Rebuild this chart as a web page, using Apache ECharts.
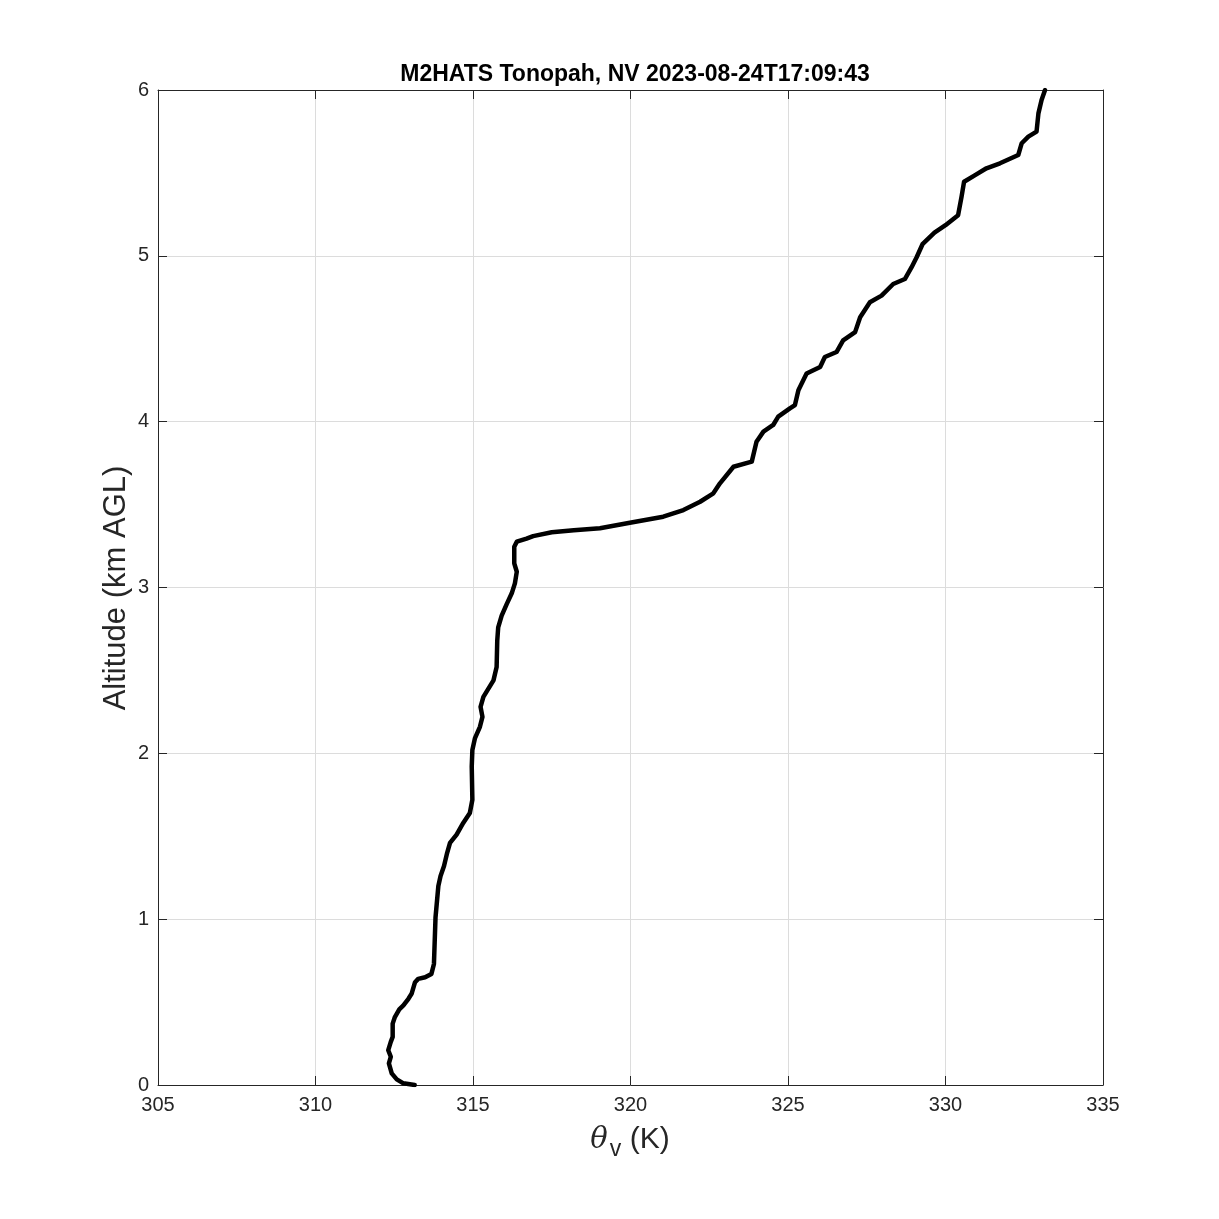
<!DOCTYPE html>
<html><head><meta charset="utf-8">
<script src="https://cdn.jsdelivr.net/npm/echarts@6/dist/echarts.min.js"></script>
<style>html,body{margin:0;padding:0;background:#fff}#c{width:1219px;height:1219px}</style>
</head><body><div id="c"></div>
<script>
const titleText = 'M2HATS Tonopah, NV 2023-08-24T17:09:43';
const xTicks = [305, 310, 315, 320, 325, 330, 335];
const yTicks = [0, 1, 2, 3, 4, 5, 6];
const thetaV = [313.15,312.79,312.58,312.42,312.33,312.39,312.31,312.39,312.45,312.45,312.52,312.66,312.79,312.95,313.05,313.16,313.26,313.48,313.68,313.76,313.81,313.90,313.97,314.08,314.18,314.27,314.48,314.69,314.90,314.98,314.96,314.98,315.06,315.22,315.30,315.24,315.33,315.49,315.65,315.75,315.77,315.80,315.91,316.07,316.23,316.33,316.39,316.31,316.31,316.39,316.70,316.91,317.50,318.20,319.03,319.98,321.04,321.68,322.21,322.63,322.84,323.27,323.85,324.00,324.22,324.53,324.69,325.06,325.22,325.33,325.59,326.02,326.17,326.54,326.75,327.13,327.29,327.60,327.97,328.34,328.71,328.92,329.08,329.27,329.65,330.00,330.40,330.51,330.59,330.94,331.30,331.73,332.31,332.42,332.63,332.89,332.95,333.05,333.16];
const altitude = [0.00,0.01,0.034,0.07,0.13,0.17,0.21,0.26,0.29,0.37,0.41,0.456,0.48,0.52,0.55,0.62,0.64,0.65,0.67,0.73,1.01,1.20,1.26,1.32,1.40,1.46,1.51,1.58,1.64,1.72,1.92,2.02,2.09,2.16,2.22,2.28,2.34,2.39,2.44,2.52,2.68,2.76,2.83,2.90,2.965,3.025,3.095,3.146,3.246,3.276,3.295,3.31,3.333,3.345,3.357,3.39,3.427,3.467,3.517,3.568,3.628,3.728,3.759,3.879,3.94,3.98,4.03,4.08,4.10,4.19,4.29,4.33,4.39,4.42,4.49,4.54,4.63,4.72,4.76,4.83,4.86,4.93,4.99,5.07,5.14,5.185,5.245,5.357,5.447,5.487,5.528,5.558,5.608,5.679,5.719,5.749,5.859,5.94,6.00];

const FONT = '"Liberation Sans", Arial, Helvetica, sans-serif';
const pts = thetaV.map((t, i) => [t, altitude[i]]);
const chart = echarts.init(document.getElementById('c'), null, {renderer: 'canvas'});
const axisBase = (min, max, interval) => ({
  type: 'value', min, max, interval,
  axisLine: {show: true, onZero: false, lineStyle: {color: '#262626', width: 1}},
  axisTick: {show: true, inside: true, length: 9, lineStyle: {color: '#262626'}},
  splitLine: {show: false}
});
chart.setOption({
  animation: false,
  backgroundColor: '#fff',
  title: {text: titleText, left: 630, top: 58, textAlign: 'center',
    textStyle: {fontFamily: FONT, fontSize: 23, fontWeight: 'bold', color: '#000'}},
  grid: {left: 158, top: 90, width: 945, height: 995, show: false},
  xAxis: [
    Object.assign(axisBase(xTicks[0], xTicks[xTicks.length-1], 5), {
      position: 'bottom',
      axisLabel: {show: true, fontFamily: FONT, fontSize: 20, color: '#262626', margin: 10},
      splitLine: {show: true, lineStyle: {color: '#dcdcdc', width: 1}}
    }),
    Object.assign(axisBase(xTicks[0], xTicks[xTicks.length-1], 5), {
      position: 'top', axisLabel: {show: false}
    })
  ],
  yAxis: [
    Object.assign(axisBase(yTicks[0], yTicks[yTicks.length-1], 1), {
      position: 'left',
      axisLabel: {show: true, fontFamily: FONT, fontSize: 20, color: '#262626', margin: 9},
      splitLine: {show: true, lineStyle: {color: '#dcdcdc', width: 1}}
    }),
    Object.assign(axisBase(yTicks[0], yTicks[yTicks.length-1], 1), {
      position: 'right', axisLabel: {show: false}
    })
  ],
  series: [{
    type: 'line', data: pts, xAxisIndex: 0, yAxisIndex: 0,
    showSymbol: false, smooth: false,
    lineStyle: {color: '#000', width: 4.5, join: 'round', cap: 'round'}
  }],
  graphic: [
    {type: 'text', x: 116, y: 588, rotation: Math.PI/2,
      style: {text: 'Altitude (km AGL)', fontFamily: FONT, fontSize: 31, fill: '#262626',
        textAlign: 'center', textVerticalAlign: 'middle'}},
    {type: 'text', x: 630, y: 1140,
      style: {text: '{t|θ}{s|v}{n| (K)}', textAlign: 'center', textVerticalAlign: 'middle',
        rich: {
          t: {fontFamily: '"DejaVu Serif", "Liberation Serif", serif', fontStyle: 'italic', fontSize: 29, fill: '#262626'},
          s: {fontFamily: FONT, fontSize: 23, fill: '#262626', padding: [20, 0, 0, 2]},
          n: {fontFamily: FONT, fontSize: 30, fill: '#262626'}
        }}}
  ]
});
</script></body></html>
